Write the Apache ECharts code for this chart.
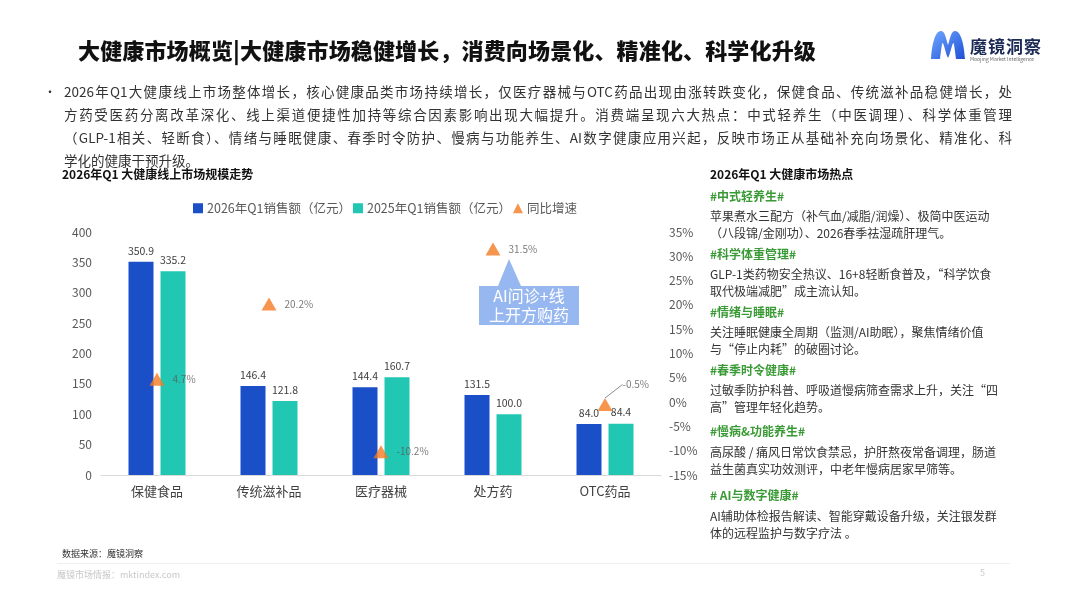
<!DOCTYPE html>
<html><head><meta charset="utf-8">
<script src="https://cdn.jsdelivr.net/npm/echarts@6/dist/echarts.min.js"></script>
<style>
html,body{margin:0;padding:0;background:#fff;}
body{width:1067px;height:600px;position:relative;overflow:hidden;font-family:"Noto Sans CJK SC","Noto Sans",sans-serif;color:#333;}
#chart{position:absolute;left:0;top:0;width:1067px;height:600px;}
.abs{position:absolute;white-space:nowrap;}
#title{left:78px;top:33px;font-size:22px;font-weight:900;color:#111;letter-spacing:0.15px;}
#para{left:64px;top:80px;width:948px;font-size:13.5px;color:#333;line-height:23px;white-space:normal;}
#para div{text-align:justify;text-align-last:justify;}
#para div.last{text-align-last:left;}
#bullet{left:44px;top:80px;font-size:12px;line-height:23px;}
.h{font-size:12px;font-weight:700;color:#111;}
#panel{left:710px;top:164px;font-size:12px;line-height:17px;color:#333;}
.g{color:#3a9a35;font-weight:700;position:absolute;left:0;white-space:nowrap;}
.b{position:absolute;left:0;white-space:nowrap;}
#src{left:62px;top:547px;font-size:9px;color:#333;}
#rule{left:57px;top:563px;width:953px;height:1px;background:#eeeeee;}
#foot{left:57px;top:568px;font-size:9px;color:#c8c8c8;}
#page{left:980px;top:566px;font-size:9px;color:#c8c8c8;}
#logoText{left:970px;top:33px;font-size:17px;font-weight:700;color:#1a2a55;letter-spacing:1px;}
#logoSub{left:970px;top:55px;font-size:5px;color:#666;}
</style></head>
<body>
<div id="chart"></div>
<div class="abs" id="title">大健康市场概览|大健康市场稳健增长，消费向场景化、精准化、科学化升级</div>
<svg class="abs" style="left:930px;top:30px" width="36" height="30" viewBox="0 0 36 30">
<defs><linearGradient id="lg" x1="0" y1="0" x2="1" y2="1"><stop offset="0" stop-color="#6fa8ff"/><stop offset="1" stop-color="#1f4fd6"/></linearGradient></defs>
<path d="M1 29 C2 14 5 1 11 1 C15 1 16 9 18 15 C20 9 21 1 25 1 C31 1 34 14 35 29 L26 29 C25 21 24 13 23.5 13 C22 13 21 22 18 28 C15 22 14 13 12.5 13 C12 13 11 21 10 29 Z" fill="url(#lg)"/>
</svg>
<div class="abs" id="logoText">魔镜洞察</div>
<div class="abs" id="logoSub">Moojing Market Intelligence</div>
<div class="abs" id="bullet">•</div>
<div class="abs" id="para">
<div>2026年Q1大健康线上市场整体增长，核心健康品类市场持续增长，仅医疗器械与OTC药品出现由涨转跌变化，保健食品、传统滋补品稳健增长，处</div>
<div>方药受医药分离改革深化、线上渠道便捷性加持等综合因素影响出现大幅提升。消费端呈现六大热点：中式轻养生（中医调理）、科学体重管理</div>
<div>（GLP-1相关、轻断食）、情绪与睡眠健康、春季时令防护、慢病与功能养生、AI数字健康应用兴起，反映市场正从基础补充向场景化、精准化、科</div>
<div class="last">学化的健康干预升级。</div>
</div>
<div class="abs h" style="left:62px;top:165px;">2026年Q1 大健康线上市场规模走势</div>
<div class="abs" id="panel">
<div class="h b" style="top:1px;">2026年Q1 大健康市场热点</div>
<div class="g" style="top:23px;">#中式轻养生#</div>
<div class="b" style="top:43px;">苹果煮水三配方（补气血/减脂/润燥）、极简中医运动<br>（八段锦/金刚功）、2026春季祛湿疏肝理气。</div>
<div class="g" style="top:81px;">#科学体重管理#</div>
<div class="b" style="top:101px;">GLP-1类药物安全热议、16+8轻断食普及，“科学饮食<br>取代极端减肥”成主流认知。</div>
<div class="g" style="top:139px;">#情绪与睡眠#</div>
<div class="b" style="top:159px;">关注睡眠健康全周期（监测/AI助眠），聚焦情绪价值<br>与“停止内耗”的破圈讨论。</div>
<div class="g" style="top:197px;">#春季时令健康#</div>
<div class="b" style="top:217px;">过敏季防护科普、呼吸道慢病筛查需求上升，关注“四<br>高”管理年轻化趋势。</div>
<div class="g" style="top:258px;">#慢病&amp;功能养生#</div>
<div class="b" style="top:279px;">高尿酸 / 痛风日常饮食禁忌，护肝熬夜常备调理，肠道<br>益生菌真实功效测评，中老年慢病居家早筛等。</div>
<div class="g" style="top:322px;"># AI与数字健康#</div>
<div class="b" style="top:343px;">AI辅助体检报告解读、智能穿戴设备升级，关注银发群<br>体的远程监护与数字疗法 。</div>
</div>
<div class="abs" id="src">数据来源：魔镜洞察</div>
<div class="abs" id="rule"></div>
<div class="abs" id="foot">魔镜市场情报：mktindex.com</div>
<div class="abs" id="page">5</div>
<script>
var categories = ['保健食品','传统滋补品','医疗器械','处方药','OTC药品'];
var sales2026 = [350.9,146.4,144.4,131.5,84.0];
var sales2025 = [335.2,121.8,160.7,100.0,84.4];
var yoyGrowth = [4.7,20.2,-10.2,31.5,-0.5];
var leftTicks = {min:0,max:400,interval:50};
var rightTicks = {min:-15,max:35,interval:5};
var calloutIndex = 3;
var calloutLines = ['AI问诊+线','上开方购药'];

var chart = echarts.init(document.getElementById('chart'));
var font = '"Noto Sans CJK SC","Noto Sans",sans-serif';
var yoyData = yoyGrowth.map(function(v,i){
  if(i===4){
    return {value:v, labelLine:{show:true, lineStyle:{color:'#8c8c8c',width:1}}};
  }
  return v;
});
chart.setOption({
  textStyle:{fontFamily:font},
  animation:false,
  grid:{left:101,right:406,top:232,bottom:125},
  legend:{
    top:197,left:188,itemWidth:10,itemHeight:10,itemGap:2,
    textStyle:{fontSize:12.5,color:'#595959',fontFamily:font,padding:[0,0,0,-1]},
    data:[{name:'2026年Q1销售额（亿元）',icon:'rect'},{name:'2025年Q1销售额（亿元）',icon:'rect'},{name:'同比增速',icon:'triangle'}]
  },
  xAxis:{
    type:'category',data:categories,
    axisLine:{lineStyle:{color:'#d9d9d9'}},axisTick:{show:false},
    axisLabel:{fontSize:13,color:'#404040',margin:10}
  },
  yAxis:[
    {type:'value',min:leftTicks.min,max:leftTicks.max,interval:leftTicks.interval,
     splitLine:{show:false},axisLine:{show:false},axisTick:{show:false},
     axisLabel:{fontSize:12,color:'#595959',margin:9}},
    {type:'value',min:rightTicks.min,max:rightTicks.max,interval:rightTicks.interval,
     splitLine:{show:false},axisLine:{show:false},axisTick:{show:false},
     axisLabel:{fontSize:12,color:'#595959',margin:8,formatter:'{value}%'}}
  ],
  series:[
    {name:'2026年Q1销售额（亿元）',type:'bar',data:sales2026,barWidth:25,barGap:'28%',
     itemStyle:{color:'#1a4fc8'},
     label:{show:true,position:'top',fontSize:10.5,color:'#404040',distance:6,formatter:function(p){return p.value.toFixed(1);}}},
    {name:'2025年Q1销售额（亿元）',type:'bar',data:sales2025,barWidth:25,
     itemStyle:{color:'#22c7b4'},
     label:{show:true,position:'top',fontSize:10.5,color:'#404040',distance:6,formatter:function(p){return p.value.toFixed(1);}}},
    {name:'同比增速',type:'scatter',yAxisIndex:1,data:yoyData,symbol:'triangle',symbolSize:[15,13],z:5,
     itemStyle:{color:'#f47a22'},
     label:{show:true,position:'right',distance:8,fontSize:10,color:'#595959',formatter:function(p){return p.value+'%';}},
     labelLayout:function(p){ if(p.dataIndex===4){return {dx:2,dy:-20};} return {}; }}
  ]
});
var pt = chart.convertToPixel({xAxisIndex:0,yAxisIndex:1},[calloutIndex,yoyGrowth[calloutIndex]]);
var x=pt[0], y=pt[1];
chart.setOption({graphic:[
  {type:'polygon',shape:{points:[[x+5,y+37],[x+16,y+10],[x+28,y+37]]},style:{fill:'#97b7f0'},z:10},
  {type:'rect',shape:{x:x-14,y:y+37,width:100,height:39},style:{fill:'#97b7f0'},z:10},
  {type:'text',x:x+36,y:y+56,style:{text:calloutLines.join('\n'),fill:'#ffffff',fontSize:16,lineHeight:19,align:'center',verticalAlign:'middle',fontFamily:font},z:11}
]});
</script>
</body></html>
